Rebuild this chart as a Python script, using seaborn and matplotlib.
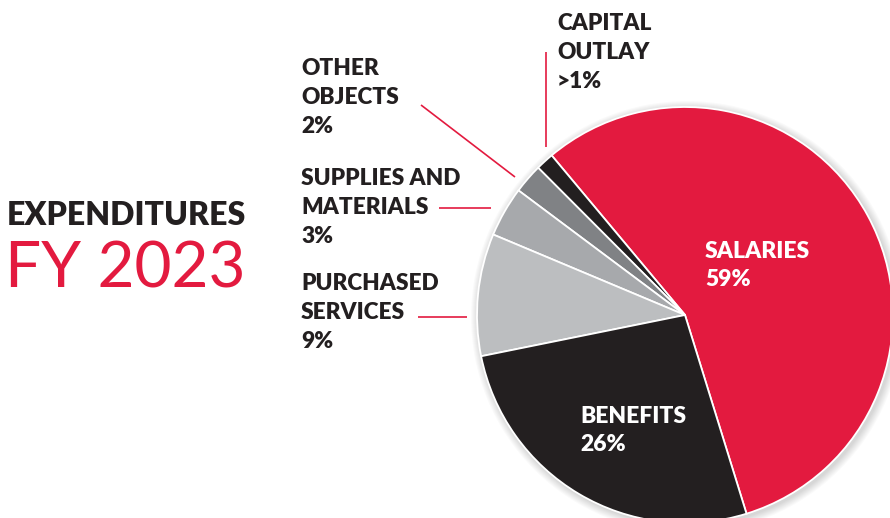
import matplotlib
matplotlib.use('Agg')
import matplotlib.pyplot as plt
from matplotlib.patches import Circle
import seaborn as sns

# ========== data ==========
categories = ['SALARIES', 'CAPITAL OUTLAY', 'OTHER OBJECTS',
              'SUPPLIES AND MATERIALS', 'PURCHASED SERVICES', 'BENEFITS']
# wedge shares as drawn in the picture (percent)
shares = [56.3, 1.4, 2.3, 3.9, 9.5, 26.6]
# printed percentages
pct_labels = ['59%', '>1%', '2%', '3%', '9%', '26%']
colors = ['#E31A3F', '#231F20', '#808285', '#A7A9AC', '#BCBEC0', '#231F20']

RED = '#E31A3F'
DARK = '#231F20'

# ========== style ==========
sns.set_theme(style='white')
plt.rcParams['font.family'] = ['Lato', 'DejaVu Sans']

W, H = 890, 518
fig = plt.figure(figsize=(W / 100, H / 100), dpi=100)
ax = fig.add_axes([0, 0, 1, 1])

cx, cy, r = 685, 315, 208

# soft shadow
for i in range(8):
    ax.add_patch(Circle((cx + 2, cy + 2), r + 1 + i, color='#000000',
                        alpha=0.018, lw=0, zorder=0))

ax.pie(shares, colors=colors, startangle=72.8, counterclock=False,
       center=(cx, cy), radius=r,
       wedgeprops=dict(edgecolor='white', linewidth=1.3),
       frame=False)

ax.set_xlim(0, W)
ax.set_ylim(H, 0)
ax.set_aspect('equal')
ax.axis('off')

# ========== title ==========
ax.text(7, 225, 'EXPENDITURES', color=DARK, fontsize=23, fontweight='heavy',
        va='baseline', ha='left')
ax.text(5, 288, 'FY 2023', color=RED, fontsize=46, fontweight='normal',
        va='baseline', ha='left')

# ========== outer labels ==========
fs = 16.3
step = 29
outer = [
    (557, 30, ['CAPITAL', 'OUTLAY', pct_labels[1]]),
    (301, 75, ['OTHER', 'OBJECTS', pct_labels[2]]),
    (301, 185, ['SUPPLIES AND', 'MATERIALS', pct_labels[3]]),
    (301, 290, ['PURCHASED', 'SERVICES', pct_labels[4]]),
]
for x, y0, lines in outer:
    for k, line in enumerate(lines):
        ax.text(x, y0 + k * step, line, color=DARK, fontsize=fs,
                fontweight='heavy', va='baseline', ha='left')

# leader lines
leaders = [
    ((546, 546), (52, 147)),
    ((421, 515), (105, 177)),
    ((439, 491), (208, 208)),
    ((418, 467), (317, 317)),
]
for xs, ys in leaders:
    ax.plot(xs, ys, color=RED, lw=1.2, solid_capstyle='butt')

# ========== inner labels ==========
inner = [
    (705, 258, [categories[0], pct_labels[0]]),
    (580, 423, [categories[5], pct_labels[5]]),
]
for x, y0, lines in inner:
    for k, line in enumerate(lines):
        ax.text(x, y0 + k * 28, line, color='white', fontsize=16.5,
                fontweight='heavy', va='baseline', ha='left')

fig.savefig('out.png', dpi=100)
